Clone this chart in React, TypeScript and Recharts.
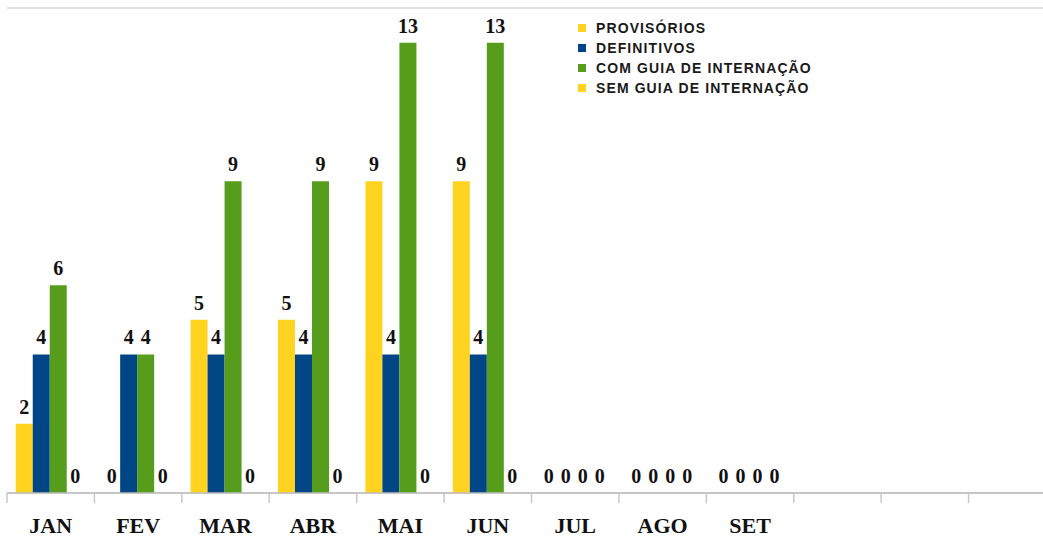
import { Bar, BarChart, CartesianGrid, LabelList, XAxis, YAxis } from "recharts";

const months = ["JAN", "FEV", "MAR", "ABR", "MAI", "JUN", "JUL", "AGO", "SET", "", "", ""];
const provisorios = [2, 0, 5, 5, 9, 9, 0, 0, 0, null, null, null];
const definitivos = [4, 4, 4, 4, 4, 4, 0, 0, 0, null, null, null];
const comGuia = [6, 4, 9, 9, 13, 13, 0, 0, 0, null, null, null];
const semGuia = [0, 0, 0, 0, 0, 0, 0, 0, 0, null, null, null];
const yTicks = [0, 2, 4, 6, 8, 10, 12, 14];

const YELLOW = "#FFD320";
const BLUE = "#004586";
const GREEN = "#579D1C";

const series = [
  { key: "prov", name: "PROVISÓRIOS", color: YELLOW },
  { key: "def", name: "DEFINITIVOS", color: BLUE },
  { key: "com", name: "COM GUIA DE INTERNAÇÃO", color: GREEN },
  { key: "sem", name: "SEM GUIA DE INTERNAÇÃO", color: YELLOW },
];

const data = months.map((m, i) => ({
  month: m,
  prov: provisorios[i],
  def: definitivos[i],
  com: comGuia[i],
  sem: semGuia[i],
}));

const W = 1056;
const H = 538;
const M = { top: 8, right: 0, left: 7, bottom: 0 };
const BAND = (W - M.left - M.right) / months.length;

function MonthTick(props: any) {
  const { x, y, payload } = props;
  const bx = x - BAND / 2;
  return (
    <g>
      <line x1={bx} y1={y} x2={bx} y2={y + 10} stroke="#c8c8c8" strokeWidth={1.5} />
      <text
        x={x}
        y={y + 40}
        textAnchor="middle"
        fontFamily="'Liberation Serif', serif"
        fontWeight="bold"
        fontSize={22}
        fill="#111"
      >
        {payload.value}
      </text>
    </g>
  );
}

function ValueLabel(props: any) {
  const { x, y, width, value } = props;
  if (value === null || value === undefined) return null;
  return (
    <text
      x={x + width / 2}
      y={y - 10}
      textAnchor="middle"
      fontFamily="'Liberation Serif', serif"
      fontWeight="bold"
      fontSize={20}
      fill="#111"
    >
      {value}
    </text>
  );
}

export default function App() {
  return (
    <div style={{ position: "absolute", left: 0, top: 0, width: 1043, height: H, overflow: "hidden", background: "#fff" }}>
      <BarChart width={W} height={H} data={data} margin={M} barCategoryGap="10%" barGap={0}>
        <CartesianGrid vertical={false} stroke="#c4c4c4" strokeWidth={1.2} />
        <XAxis
          dataKey="month"
          height={45}
          axisLine={{ stroke: "#bdbdbd", strokeWidth: 1.5 }}
          tickLine={false}
          tickSize={0}
          tickMargin={0}
          interval={0}
          tick={<MonthTick />}
        />
        <YAxis
          width={0}
          domain={[0, 14]}
          ticks={yTicks}
          tick={false}
          tickLine={false}
          axisLine={{ stroke: "#c4c4c4", strokeWidth: 1.2 }}
        />
        {series.map((s) => (
          <Bar
            key={s.key}
            dataKey={s.key}
            name={s.name}
            fill={s.color}
            minPointSize={0.01}
            isAnimationActive={false}
          >
            <LabelList dataKey={s.key} content={<ValueLabel />} />
          </Bar>
        ))}
      </BarChart>
      <div style={{ position: "absolute", left: 578, top: 18 }}>
        {series.map((s) => (
          <div key={s.key} style={{ display: "flex", alignItems: "center", height: 20 }}>
            <span style={{ width: 8, height: 8, background: s.color, marginRight: 10 }} />
            <span
              style={{
                fontFamily: "'Liberation Sans', Arial, sans-serif",
                fontWeight: "bold",
                fontSize: 14,
                letterSpacing: 1.1,
                color: "#1a1a1a",
                lineHeight: "20px",
              }}
            >
              {s.name}
            </span>
          </div>
        ))}
      </div>
    </div>
  );
}
